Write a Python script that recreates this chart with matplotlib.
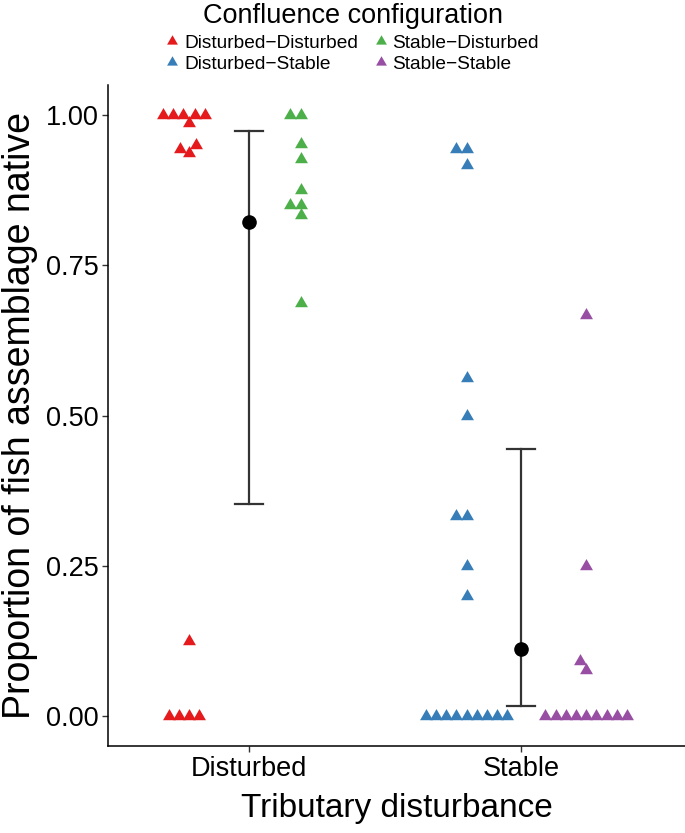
import numpy as np
import matplotlib
matplotlib.use("Agg")
import matplotlib.pyplot as plt
from matplotlib.lines import Line2D

plt.rcParams['font.family'] = ['Liberation Sans', 'DejaVu Sans']

# ---------------------------------------------------------
# data
# ---------------------------------------------------------
disturbance = ["Disturbed", "Stable"]

dist_dist = [1.0, 1.0, 1.0, 1.0, 1.0, 0.986, 0.95, 0.944, 0.9375, 0.125,
             0.0, 0.0, 0.0, 0.0]
stab_dist = [1.0, 1.0, 0.952, 0.927, 0.875, 0.85, 0.85, 0.833, 0.6875]
dist_stab = [0.944, 0.944, 0.917, 0.5625, 0.5, 0.333, 0.333, 0.25, 0.2,
             0, 0, 0, 0, 0, 0, 0, 0, 0]
stab_stab = [0.667, 0.25, 0.0909, 0.0769,
             0, 0, 0, 0, 0, 0, 0, 0, 0]

means = [0.822, 0.112]
ci_low = [0.352, 0.017]
ci_high = [0.974, 0.444]

yticks = [0.0, 0.25, 0.5, 0.75, 1.0]

# ---------------------------------------------------------
# style
# ---------------------------------------------------------
groups = [
    # label, values, tributary index, dodge offset, colour
    ("Disturbed\u2212Disturbed", dist_dist, 0, -0.22, "#E41A1C"),
    ("Disturbed\u2212Stable",    dist_stab, 1, -0.20, "#377EB8"),
    ("Stable\u2212Disturbed",    stab_dist, 0,  0.19, "#4DAF4A"),
    ("Stable\u2212Stable",       stab_stab, 1,  0.24, "#984EA3"),
]

tri = [(0, 1), (-0.866, -0.5), (0.866, -0.5)]


def swarm(values, dia, px_x, px_y):
    # simple beeswarm: put each point as close to the centre as possible
    vals = np.asarray(values, dtype=float)
    order = np.argsort(vals, kind="stable")
    placed = []
    xs = np.zeros(len(vals))
    for i in order:
        y = vals[i] * px_y
        cands = [0.0]
        for (px, py) in placed:
            dy = abs(py - y)
            if dy < dia:
                dx = np.sqrt(dia ** 2 - dy ** 2)
                cands += [px - dx, px + dx]
        cands.sort(key=lambda c: (round(abs(c), 6), c))
        for c in cands:
            ok = all((c - px) ** 2 + (y - py) ** 2 >= dia ** 2 - 1e-6
                     for (px, py) in placed)
            if ok:
                xs[i] = c
                placed.append((c, y))
                break
    return xs / px_x


fig = plt.figure(figsize=(6.85, 8.33), dpi=100)
ax = fig.add_axes([108 / 685, 1 - 746 / 833, 1 - 108 / 685, (746 - 85) / 833])

xpos = np.arange(1, len(disturbance) + 1)
ax.set_xlim(0.482, 2.603)
ax.set_ylim(-0.05, 1.05)

# pixels per data unit
p0 = ax.transData.transform((0, 0))
p1 = ax.transData.transform((1, 1))
px_x = (p1[0] - p0[0])
px_y = (p1[1] - p0[1])

handles = []
for label, vals, ti, off, col in groups:
    dx = swarm(vals, 10.2, px_x, px_y)
    ax.scatter(xpos[ti] + off + dx, vals, marker=tri, s=115, color=col,
               linewidths=0, zorder=3)
    handles.append(Line2D([], [], marker=tri, color=col, linestyle="none",
                          markersize=9, markeredgewidth=0))

# mean and interval
for i in range(len(disturbance)):
    ax.plot([xpos[i], xpos[i]], [ci_low[i], ci_high[i]], color="#333333",
            lw=1.6, zorder=2)
    for yv in (ci_low[i], ci_high[i]):
        ax.plot([xpos[i] - 0.05, xpos[i] + 0.05], [yv, yv], color="#333333",
                lw=1.6, zorder=2)
    ax.plot(xpos[i], means[i], "o", color="black", markersize=9.5, zorder=4)

ax.set_xticks(xpos)
ax.set_xticklabels(disturbance)
ax.set_yticks(yticks)
ax.set_yticklabels(["%.2f" % v for v in yticks])
ax.tick_params(labelsize=19.5, length=4, width=1, color="#333333",
               labelcolor="black", pad=3)

for s in ["top", "right"]:
    ax.spines[s].set_visible(False)
for s in ["left", "bottom"]:
    ax.spines[s].set_linewidth(1.1)
    ax.spines[s].set_color("black")

ax.set_xlabel("Tributary disturbance", fontsize=24, labelpad=8)
ax.set_ylabel("Proportion of fish assemblage native", fontsize=27,
              labelpad=5)

leg = fig.legend(handles, [g[0] for g in groups], ncol=2,
                 loc="upper center", bbox_to_anchor=(0.515, 1.013),
                 title="Confluence configuration", title_fontsize=19.5,
                 fontsize=13.8, frameon=False, handlelength=0.6,
                 handletextpad=0.3, columnspacing=0.9, labelspacing=0.22,
                 borderpad=0.2)
leg._legend_box.sep = 4

fig.savefig("out.png", dpi=100)
